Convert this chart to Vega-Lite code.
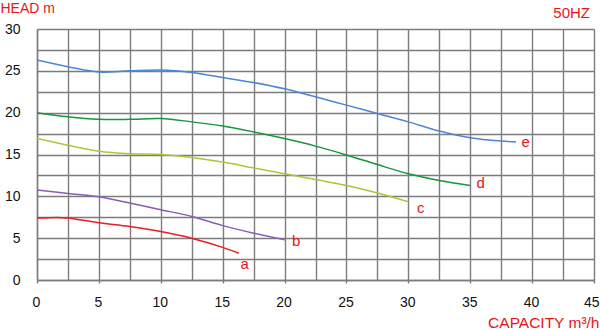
{
  "$schema": "https://vega.github.io/schema/vega-lite/v6.json",
  "width": 557,
  "height": 251,
  "autosize": "none",
  "padding": {"left": 37, "top": 29, "right": 6, "bottom": 50},
  "background": "white",
  "config": {
    "view": {"stroke": null},
    "font": "Liberation Sans"
  },
  "title": {
    "text": "50HZ",
    "anchor": "end",
    "frame": "group",
    "orient": "top",
    "offset": -20,
    "dx": -4,
    "fontSize": 15,
    "fontWeight": "normal",
    "color": "#e8141c",
    "font": "Liberation Sans"
  },
  "datasets": {
    "curves": [
      {"s": "a", "x": 0, "y": 7.4}, {"s": "a", "x": 1, "y": 7.45}, {"s": "a", "x": 2, "y": 7.45}, {"s": "a", "x": 2.5, "y": 7.4}, {"s": "a", "x": 5, "y": 6.85}, {"s": "a", "x": 7.5, "y": 6.4}, {"s": "a", "x": 10, "y": 5.8}, {"s": "a", "x": 12.5, "y": 5.0}, {"s": "a", "x": 15, "y": 3.9}, {"s": "a", "x": 16.3, "y": 3.2},
      {"s": "b", "x": 0, "y": 10.75}, {"s": "b", "x": 2.5, "y": 10.35}, {"s": "b", "x": 5, "y": 9.95}, {"s": "b", "x": 7.5, "y": 9.2}, {"s": "b", "x": 10, "y": 8.4}, {"s": "b", "x": 12.5, "y": 7.6}, {"s": "b", "x": 15, "y": 6.5}, {"s": "b", "x": 17.5, "y": 5.6}, {"s": "b", "x": 20, "y": 4.8},
      {"s": "c", "x": 0, "y": 16.9}, {"s": "c", "x": 2.5, "y": 16.1}, {"s": "c", "x": 5, "y": 15.4}, {"s": "c", "x": 7.5, "y": 15.1}, {"s": "c", "x": 10, "y": 15.0}, {"s": "c", "x": 12.5, "y": 14.65}, {"s": "c", "x": 15, "y": 14.1}, {"s": "c", "x": 17.5, "y": 13.4}, {"s": "c", "x": 20, "y": 12.7}, {"s": "c", "x": 22.5, "y": 12.0}, {"s": "c", "x": 25, "y": 11.3}, {"s": "c", "x": 27.5, "y": 10.4}, {"s": "c", "x": 30, "y": 9.35},
      {"s": "d", "x": 0, "y": 20.0}, {"s": "d", "x": 2.5, "y": 19.5}, {"s": "d", "x": 5, "y": 19.2}, {"s": "d", "x": 7.5, "y": 19.2}, {"s": "d", "x": 10, "y": 19.3}, {"s": "d", "x": 12.5, "y": 18.9}, {"s": "d", "x": 15, "y": 18.4}, {"s": "d", "x": 17.5, "y": 17.7}, {"s": "d", "x": 20, "y": 16.9}, {"s": "d", "x": 22.5, "y": 16.0}, {"s": "d", "x": 25, "y": 14.95}, {"s": "d", "x": 27.5, "y": 13.8}, {"s": "d", "x": 30, "y": 12.7}, {"s": "d", "x": 32.5, "y": 11.9}, {"s": "d", "x": 35, "y": 11.3},
      {"s": "e", "x": 0, "y": 26.3}, {"s": "e", "x": 2.5, "y": 25.5}, {"s": "e", "x": 5, "y": 24.85}, {"s": "e", "x": 7.5, "y": 25.0}, {"s": "e", "x": 10, "y": 25.1}, {"s": "e", "x": 12.5, "y": 24.8}, {"s": "e", "x": 15, "y": 24.2}, {"s": "e", "x": 17.5, "y": 23.6}, {"s": "e", "x": 20, "y": 22.85}, {"s": "e", "x": 22.5, "y": 21.9}, {"s": "e", "x": 25, "y": 20.9}, {"s": "e", "x": 27.5, "y": 19.9}, {"s": "e", "x": 30, "y": 18.9}, {"s": "e", "x": 32.5, "y": 17.8}, {"s": "e", "x": 35, "y": 17.0}, {"s": "e", "x": 37.5, "y": 16.6}, {"s": "e", "x": 38.7, "y": 16.5}
    ],
    "labels": [
      {"s": "a", "x": 16.45, "y": 1.9},
      {"s": "b", "x": 20.6, "y": 4.65},
      {"s": "c", "x": 30.7, "y": 8.6},
      {"s": "d", "x": 35.5, "y": 11.6},
      {"s": "e", "x": 39.15, "y": 16.5}
    ]
  },
  "encoding": {
    "x": {
      "field": "x",
      "type": "quantitative",
      "scale": {"domain": [0, 45], "nice": false, "zero": false},
      "axis": {
        "values": [0, 2.5, 5, 7.5, 10, 12.5, 15, 17.5, 20, 22.5, 25, 27.5, 30, 32.5, 35, 37.5, 40, 42.5, 45],
        "labelExpr": "datum.value % 5 === 0 ? datum.label : ''",
        "grid": true,
        "gridColor": "#7c7c7c",
        "gridWidth": 1.4,
        "gridOpacity": 1,
        "domain": true,
        "domainColor": "#7c7c7c",
        "domainWidth": 1.4,
        "ticks": true,
        "tickSize": 3,
        "tickColor": "#7c7c7c",
        "tickWidth": 1.4,
        "tickOpacity": {"condition": {"test": "datum.value % 5 === 0", "value": 1}, "value": 0},
        "labelFont": "Liberation Sans",
        "labelFontSize": 14,
        "labelColor": "#111111",
        "labelPadding": 12,
        "labelAlign": {"condition": {"test": "datum.value === 45", "value": "right"}, "value": "center"},
        "labelOffset": {"condition": {"test": "datum.value === 45", "value": 5}, "value": -1},
        "labelFlush": false,
        "labelOverlap": false,
        "title": "CAPACITY m³/h",
        "titleFont": "Liberation Sans",
        "titleFontSize": 15.5,
        "titleFontWeight": "normal",
        "titleColor": "#e8141c",
        "titleAnchor": "end",
        "titleAlign": "right",
        "titleBaseline": "alphabetic",
        "titleX": 562,
        "titleY": 47
      }
    },
    "y": {
      "field": "y",
      "type": "quantitative",
      "scale": {"domain": [0, 30], "nice": false, "zero": false},
      "axis": {
        "values": [0, 2.5, 5, 7.5, 10, 12.5, 15, 17.5, 20, 22.5, 25, 27.5, 30],
        "labelExpr": "datum.value % 5 === 0 ? datum.label : ''",
        "grid": true,
        "gridColor": "#7c7c7c",
        "gridWidth": 1.4,
        "gridOpacity": 1,
        "domain": true,
        "domainColor": "#7c7c7c",
        "domainWidth": 1.4,
        "ticks": false,
        "labelFont": "Liberation Sans",
        "labelFontSize": 14,
        "labelColor": "#111111",
        "labelPadding": 17,
        "labelFlush": false,
        "labelOverlap": false,
        "title": "HEAD m",
        "titleFont": "Liberation Sans",
        "titleFontSize": 14,
        "titleFontWeight": "normal",
        "titleColor": "#e8141c",
        "titleAngle": 0,
        "titleAlign": "left",
        "titleBaseline": "alphabetic",
        "titleX": -37,
        "titleY": -17
      }
    },
    "color": {
      "field": "s",
      "type": "nominal",
      "scale": {"domain": ["a", "b", "c", "d", "e"], "range": ["#ec1c24", "#8a5cb8", "#a8c83a", "#16963c", "#4a86d4"]},
      "legend": null
    }
  },
  "layer": [
    {
      "data": {"name": "curves"},
      "mark": {"type": "line", "interpolate": "catmull-rom", "strokeWidth": 1.5, "clip": true}
    },
    {
      "data": {"name": "labels"},
      "mark": {"type": "text", "align": "left", "baseline": "middle", "fontSize": 15, "font": "Liberation Sans", "color": "#e8141c"},
      "encoding": {
        "text": {"field": "s", "type": "nominal"},
        "color": {"value": "#e8141c"}
      }
    }
  ]
}
